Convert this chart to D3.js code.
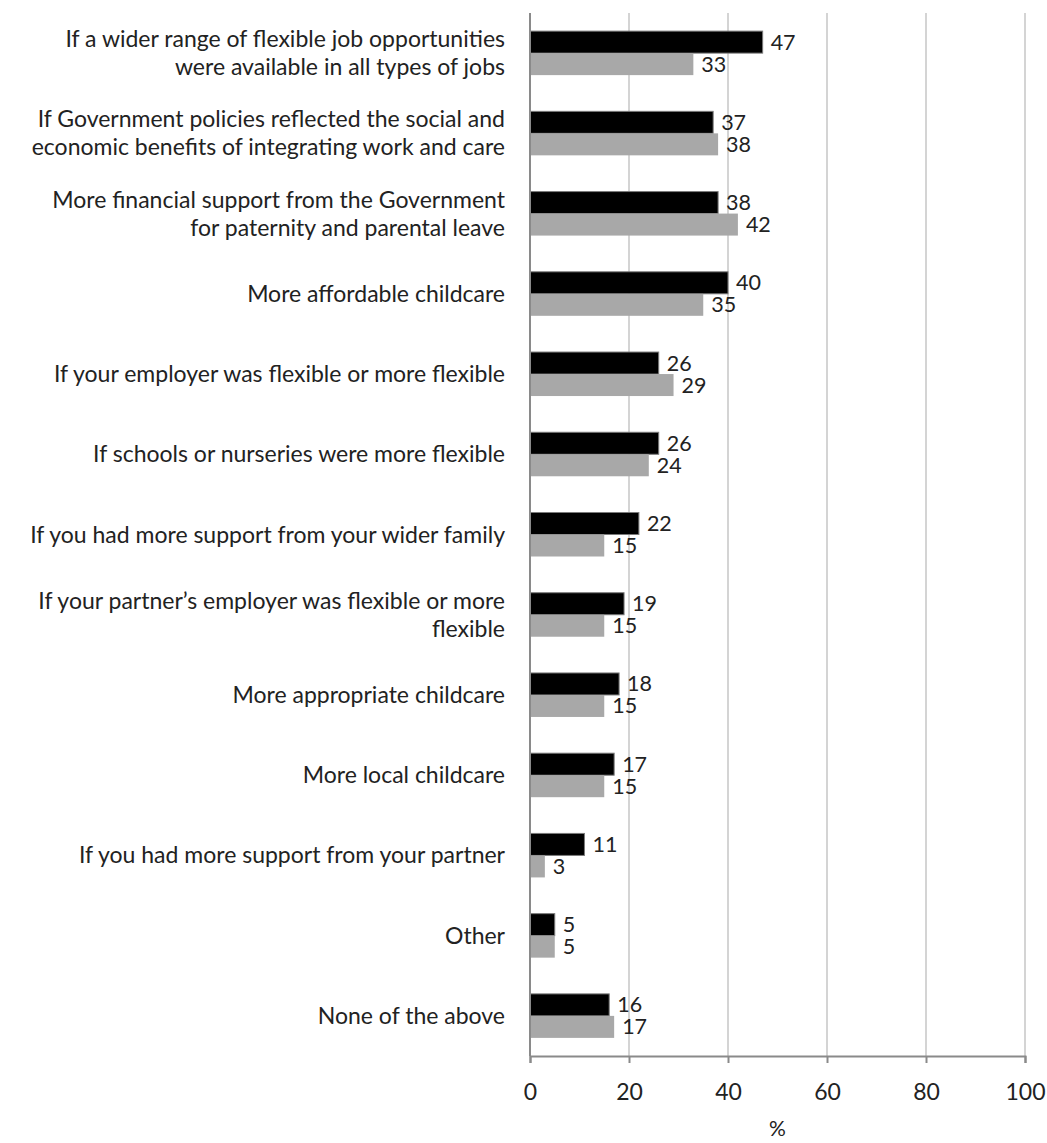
<!DOCTYPE html>
<html><head><meta charset="utf-8">
<script src="https://cdn.jsdelivr.net/npm/d3@7"></script>
<style>body{margin:0;background:#fff;} svg{display:block;}</style>
</head><body>
<svg id="c" width="1047" height="1143"></svg>
<script>
const categories = [
  ["If a wider range of flexible job opportunities","were available in all types of jobs"],
  ["If Government policies reflected the social and","economic benefits of integrating work and care"],
  ["More financial support from the Government","for paternity and parental leave"],
  ["More affordable childcare"],
  ["If your employer was flexible or more flexible"],
  ["If schools or nurseries were more flexible"],
  ["If you had more support from your wider family"],
  ["If your partner\u2019s employer was flexible or more","flexible"],
  ["More appropriate childcare"],
  ["More local childcare"],
  ["If you had more support from your partner"],
  ["Other"],
  ["None of the above"]
];
const seriesA = [47,37,38,40,26,26,22,19,18,17,11,5,16];
const seriesB = [33,38,42,35,29,24,15,15,15,15,3,5,17];
const xTicks = [0,20,40,60,80,100];
const xTitle = "%";

const svg = d3.select("#c");
const font = "Lato, 'Open Sans', sans-serif";
const fs = 23;
const vfs = 21.5;
const m = {left:530, right:1025, top:13, bottom:1056};
const x = d3.scaleLinear().domain([0,100]).range([m.left,m.right]);
const y = d3.scaleBand().domain(d3.range(categories.length)).range([m.top,m.bottom]);
const bh = 22;

// gridlines
svg.append("g").selectAll("line").data(xTicks.slice(1)).join("line")
  .attr("x1",d=>x(d)).attr("x2",d=>x(d)).attr("y1",m.top).attr("y2",m.bottom)
  .attr("stroke","#d4d4d4").attr("stroke-width",2);

// bars
const g = svg.append("g");
categories.forEach((c,i)=>{
  const cy = y(i)+y.bandwidth()/2;
  g.append("rect").attr("x",x(0)).attr("y",cy-bh).attr("width",x(seriesA[i])-x(0)).attr("height",bh)
    .attr("fill","#000").attr("stroke","#7a7a7a").attr("stroke-width",1);
  g.append("rect").attr("x",x(0)).attr("y",cy).attr("width",x(seriesB[i])-x(0)).attr("height",bh)
    .attr("fill","#a8a8a8");
  g.append("text").attr("x",x(seriesA[i])+8).attr("y",cy-bh/2).attr("dy","0.35em")
    .attr("font-family",font).attr("font-size",vfs).attr("fill","#222").text(seriesA[i]);
  g.append("text").attr("x",x(seriesB[i])+8).attr("y",cy+bh/2).attr("dy","0.35em")
    .attr("font-family",font).attr("font-size",vfs).attr("fill","#222").text(seriesB[i]);
  const lh = 28;
  c.forEach((line,k)=>{
    g.append("text").attr("x",505).attr("y",cy+(k-(c.length-1)/2)*lh).attr("dy","0.35em")
      .attr("text-anchor","end").attr("font-family",font).attr("font-size",fs).attr("fill","#222").text(line);
  });
});

// y axis line
svg.append("line").attr("x1",x(0)).attr("x2",x(0)).attr("y1",m.top).attr("y2",m.bottom)
  .attr("stroke","#8a8a8a").attr("stroke-width",2);

// x axis
const ax = svg.append("g").attr("transform",`translate(0,${m.bottom})`)
  .call(d3.axisBottom(x).tickValues(xTicks).tickSize(7).tickPadding(21));
ax.select(".domain").attr("stroke","#8a8a8a").attr("stroke-width",2);
ax.selectAll(".tick line").attr("stroke","#8a8a8a").attr("stroke-width",2);
ax.selectAll("text").attr("font-family",font).attr("font-size",fs).attr("fill","#222");

svg.append("text").attr("x",x(50)).attr("y",1129).attr("dy","0.35em").attr("text-anchor","middle")
  .attr("font-family",font).attr("font-size",21).attr("fill","#222").text(xTitle);
</script>
</body></html>
